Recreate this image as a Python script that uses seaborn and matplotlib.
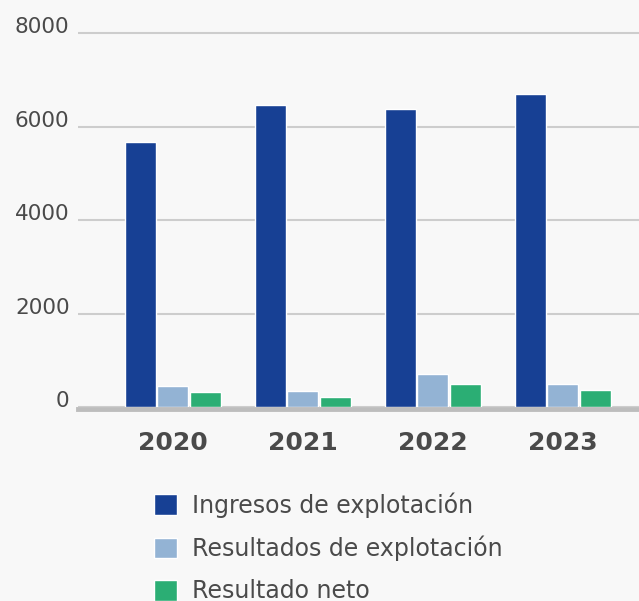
import pandas as pd
import numpy as np
from matplotlib import pyplot as plt
import seaborn as sns

years = ['2020', '2021', '2022', '2023']
ingresos = [5670, 6460, 6370, 6695]
resultados = [450, 350, 715, 500]
neto = [320, 215, 490, 365]
series = ['Ingresos de explotación', 'Resultados de explotación', 'Resultado neto']
colors = ['#174094', '#93b3d4', '#2bae74']

tbl = pd.DataFrame({'year': years * 3,
                    'serie': np.repeat(series, len(years)),
                    'valor': ingresos + resultados + neto})

sns.set_theme(style='white')
plt.rcParams['font.family'] = ['DejaVu Sans']
bg = '#f8f8f8'
txt = '#4a4a4a'

fig = plt.figure(figsize=(6.39, 6.01), dpi=100, facecolor=bg)
ax = fig.add_axes([0.122, 0.3228, 0.878, 0.630])
ax.set_facecolor(bg)

sns.barplot(data=tbl, x='year', y='valor', hue='serie', palette=colors,
            saturation=1, width=0.75, gap=0.05, ax=ax, zorder=3)

ax.set_xlim(-0.73, 3.585)
ax.set_ylim(0, 8100)
ax.set_yticks([0, 2000, 4000, 6000, 8000])
ax.yaxis.grid(True, color='#cdcdcd', linewidth=1.5, zorder=0)
ax.set_axisbelow(True)
ax.set_xlabel('')
ax.set_ylabel('')

for s in ['top', 'right', 'left']:
    ax.spines[s].set_visible(False)
ax.spines['bottom'].set_color('#bdbdbd')
ax.spines['bottom'].set_linewidth(3.5)
ax.spines['bottom'].set_position(('outward', 1.5))

ax.tick_params(axis='y', length=0, pad=6, labelsize=15.5, labelcolor=txt)
ax.tick_params(axis='x', length=0, pad=16, labelsize=18, labelcolor=txt)
for lab in ax.get_yticklabels():
    lab.set_va('baseline')
for lab in ax.get_xticklabels():
    lab.set_fontweight('bold')

handles, labels = ax.get_legend_handles_labels()
ax.legend(handles, labels, loc='upper left', bbox_to_anchor=(154 / 639, 1 - 492 / 601),
          bbox_transform=fig.transFigure, frameon=False, fontsize=17,
          handlelength=0.97, handleheight=0.97, handletextpad=0.65,
          labelspacing=0.77, borderpad=0, borderaxespad=0, labelcolor=txt)

plt.savefig('out.png', dpi=100, facecolor=bg)
